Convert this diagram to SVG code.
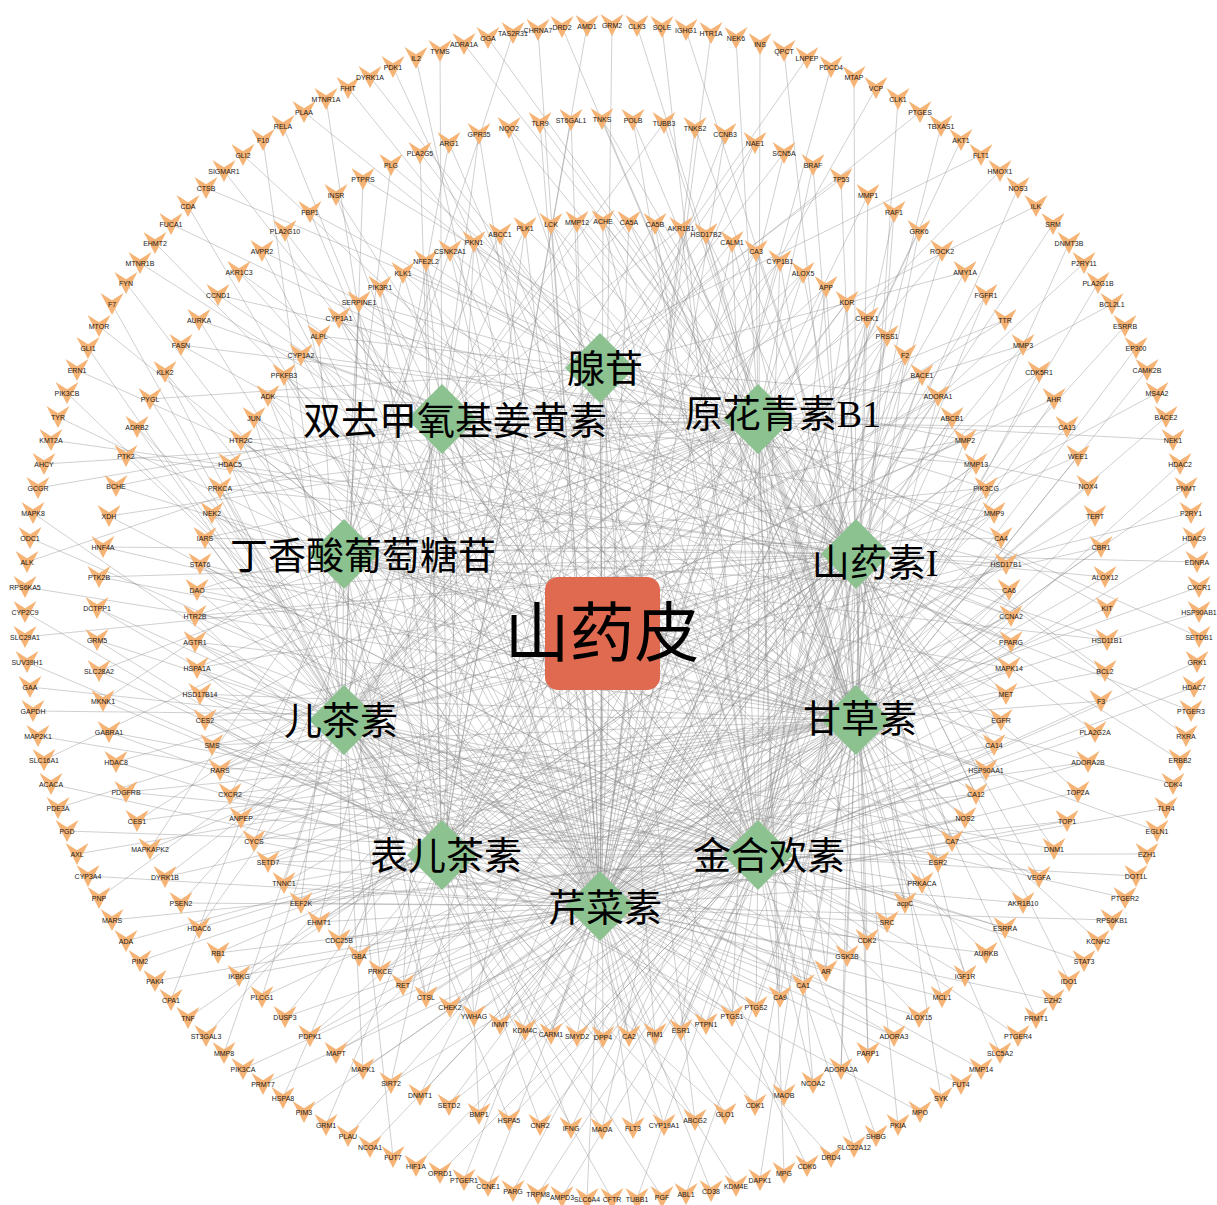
<svg xmlns="http://www.w3.org/2000/svg" width="1217" height="1205" viewBox="0 0 1217 1205">
<style>
.e{fill:none;stroke:#8a8a8a;stroke-opacity:.5;stroke-width:.8;stroke-linejoin:round}
.t text{font-family:"Liberation Sans",Arial,sans-serif;font-size:7px;text-anchor:middle;fill:#1a1a1a}
.c text{font-family:"Liberation Serif","Noto Sans CJK SC",serif;font-size:38px;text-anchor:middle;fill:#000}
.dm{fill:#8cc290}
</style>
<defs>
<polygon id="v" points="-11.5,-11 0,-3.7 11.5,-11 0,11" fill="#f5b375"/>
<polygon id="d" points="0,-35 35,0 0,35 -35,0"/>
</defs>
<rect width="1217" height="1205" fill="#fff"/>
<g id="edges">
<path class="e" d="M612 25L600 906M637 26L856 720M662 27L758 855M686 30L856 554M711 33L600 906M736 38L758 419M760 44L758 855M784 51L856 720M807 58L344 720M831 67L600 906M854 77L856 554M876 88L442 855M898 99L856 720M920 112L600 368M941 126L758 855M961 140L600 906M981 155L442 419M1000 171L758 419M1018 188L856 554M1036 206L344 554M1053 224L600 906M1069 243L856 720M1084 263L442 855M1098 283L758 855M1112 304L344 720M1125 326L600 906M1136 348L856 720M1147 370L758 855M1157 393L856 554M1166 417L600 906M1173 440L758 419M1180 464L758 855M1186 488L856 720M1191 513L344 720M1194 538L600 906M1197 562L856 554M1199 587L442 855"/>
<path class="e" d="M1199 612L856 720M1199 637L600 368M1197 662L758 855M1194 687L600 906M1191 711L442 419M1186 736L758 419M1180 760L856 554M1173 784L344 554M1166 808L600 906M1157 831L856 720M1147 854L442 855M1136 876L758 855M1125 898L344 720M1112 920L600 906M1098 941L856 720M1084 961L758 855M1069 981L856 554M1053 1000L600 906M1036 1018L758 419M1018 1036L758 855M1000 1053L856 720M981 1069L344 720M961 1084L600 906M941 1098L856 554M920 1112L442 855M898 1125L856 720M876 1136L600 368M854 1147L758 855M831 1157L600 906M807 1166L442 419M784 1173L758 419M760 1180L856 554M736 1186L344 554M711 1191L600 906M686 1194L856 720M662 1197L442 855M637 1199L758 855"/>
<path class="e" d="M612 1199L344 720M587 1199L600 906M562 1197L856 720M538 1194L758 855M513 1191L856 554M488 1186L600 906M464 1180L758 419M440 1173L758 855M416 1166L856 720M393 1157L344 720M370 1147L600 906M348 1136L856 554M326 1125L442 855M304 1112L856 720M283 1098L600 368M263 1084L758 855M243 1069L600 906M224 1053L442 419M206 1036L758 419M188 1018L856 554M171 1000L344 554M155 981L600 906M140 961L856 720M126 941L442 855M112 920L758 855M99 898L344 720M88 876L600 906M77 854L856 720M67 831L758 855M58 808L856 554M51 784L600 906M44 760L758 419M38 736L758 855M33 711L856 720M30 687L344 720M27 662L600 906M25 637L856 554"/>
<path class="e" d="M25 612L442 855M25 587L856 720M27 562L600 368M30 538L758 855M33 513L600 906M38 488L442 419M44 464L758 419M51 440L856 554M58 417L344 554M67 393L600 906M77 370L856 720M88 348L442 855M99 326L758 855M112 304L344 720M126 283L600 906M140 263L856 720M155 243L758 855M171 224L856 554M188 206L600 906M206 188L758 419M224 171L758 855M243 155L856 720M263 140L344 720M283 126L600 906M304 112L856 554M326 99L442 855M348 88L856 720M370 77L600 368M393 67L758 855M416 58L600 906M440 51L442 419M464 44L758 419M488 38L856 554M513 33L344 554M538 30L600 906M562 27L856 720M587 26L442 855"/>
<path class="e" d="M856 554L602 119L856 720M758 419L633 120L758 855M856 720L664 123L442 419M600 906L695 128L856 554M442 855L725 134L600 906M600 368L755 143L442 855M600 906L784 153L344 720M758 419L813 165L856 720M344 554L841 179L856 554M856 720L868 195L758 419M758 855L894 212L856 720M600 906L919 231L856 554M758 855L942 251L442 855M600 906L965 272L600 368M758 855L986 295L600 906M344 720L1005 320L758 419M856 554L1023 345L344 554M856 720L1039 372L442 855M758 855L1054 399L344 720M442 419L1067 427L600 906M856 554L1078 456L758 855M600 906L1088 486L758 419M442 855L1095 516L758 855M344 720L1101 547L600 906M856 720L1105 577L856 554"/>
<path class="e" d="M758 419L1107 608L856 720M344 554L1107 640L856 554M856 720L1105 671L758 419M758 855L1101 701L856 720M600 906L1095 732L856 554M758 855L1088 762L442 855M600 906L1078 792L600 368M758 855L1067 821L600 906M344 720L1054 849L758 419M856 554L1039 877L344 554M856 720L1023 903L442 855M758 855L1005 928L344 720M442 419L986 953L600 906M856 554L965 976L758 855M600 906L942 997L758 419M442 855L919 1017L758 855M344 720L894 1036L600 906M856 720L868 1053L856 554M856 554L841 1069L856 720M758 419L813 1083L758 855M856 720L784 1095L442 419M600 906L755 1105L856 554M442 855L725 1114L600 906M600 368L695 1120L442 855M600 906L664 1125L344 720"/>
<path class="e" d="M758 855L633 1128L600 906M344 720L602 1129L758 419M856 554L571 1128L344 554M856 720L540 1125L442 855M758 855L509 1120L344 720M442 419L479 1114L600 906M856 554L449 1105L758 855M600 906L420 1095L758 419M442 855L391 1083L758 855M344 720L363 1069L600 906M856 720L336 1053L856 554M856 554L310 1036L856 720M758 419L285 1017L758 855M856 720L262 997L442 419M600 906L239 976L856 554M442 855L218 953L600 906M600 368L199 928L442 855M600 906L181 903L344 720M758 419L165 877L856 720M344 554L150 849L856 554M856 720L137 821L758 419M758 855L126 792L856 720M600 906L116 762L856 554M758 855L109 732L442 855M600 906L103 701L600 368"/>
<path class="e" d="M600 906L99 671L758 419M442 855L97 640L758 855M344 720L97 608L600 906M856 720L99 577L856 554M856 554L103 547L856 720M758 419L109 516L758 855M856 720L116 486L442 419M600 906L126 456L856 554M442 855L137 427L600 906M600 368L150 399L442 855M600 906L165 372L344 720M758 419L181 345L856 720M344 554L199 320L856 554M856 720L218 295L758 419M758 855L239 272L856 720M600 906L262 251L856 554M758 855L285 231L442 855M600 906L310 212L600 368M758 855L336 195L600 906M344 720L363 179L758 419M856 554L391 165L344 554M856 720L420 153L442 855M758 855L449 143L344 720M442 419L479 134L600 906M856 554L509 128L758 855M600 906L540 123L856 554M442 855L571 120L600 906"/>
<path class="e" d="M600 906L603 221L758 855M856 720L603 221L856 554M856 554L629 222L600 906M442 419L629 222L856 720M758 855L655 224L856 720M856 554L655 224L344 720M600 906L681 228L442 419M856 720L681 228L758 855M856 720L706 234L856 554M344 720L706 234L758 419M600 906L732 242L856 720M758 855L732 242L344 720M856 554L756 251L344 720M758 419L756 251L442 855M856 720L780 261L758 855M344 720L780 261L600 906M344 720L803 273L758 419M442 855L803 273L856 554M758 855L826 287L344 720M600 906L826 287L856 720M758 419L847 302L442 855M856 554L847 302L758 855M344 720L867 318L758 855M600 906L867 318L856 720M442 855L887 336L758 419M758 855L887 336L600 906"/>
<path class="e" d="M758 855L905 355L600 906M856 720L905 355L344 720M758 419L922 375L758 855M600 906L922 375L856 554M600 906L938 396L856 720M344 720L938 396L600 368M758 855L952 418L600 906M856 554L952 418L442 419M856 720L965 440L344 720M600 368L965 440L344 554M600 906L976 464L856 554M442 419L976 464L442 855M856 720L986 488L600 368M344 554L986 488L600 906M856 554L994 513L442 419M442 855L994 513L600 906M600 368L1001 538L344 554M600 906L1001 538L758 855M442 419L1006 564L442 855M856 554L1006 564L600 906M344 554L1009 590L600 906M758 855L1009 590L856 720M442 855L1011 616L856 554M600 906L1011 616L442 419"/>
<path class="e" d="M600 906L1011 642L856 554M442 419L1011 642L442 855M856 720L1009 668L600 368M344 554L1009 668L600 906M856 554L1006 694L442 419M442 855L1006 694L600 906M600 368L1001 720L344 554M600 906L1001 720L758 855M442 419L994 745L442 855M856 554L994 745L600 906M344 554L986 770L600 906M758 855L986 770L856 720M442 855L976 794L856 554M600 906L976 794L442 419M600 906L965 818L758 855M856 720L965 818L856 554M856 554L952 841L600 906M442 419L952 841L856 720M758 855L938 862L856 720M856 554L938 862L344 720M600 906L922 883L442 419M856 720L922 883L758 855M856 720L905 903L856 554M344 720L905 903L758 419"/>
<path class="e" d="M600 906L887 922L856 720M758 855L887 922L344 720M856 554L867 940L344 720M758 419L867 940L442 855M856 720L847 956L758 855M344 720L847 956L600 906M344 720L826 971L758 419M442 855L826 971L856 554M758 855L803 985L344 720M600 906L803 985L856 720M758 419L780 997L442 855M856 554L780 997L758 855M344 720L756 1007L758 855M600 906L756 1007L856 720M442 855L732 1016L758 419M758 855L732 1016L600 906M758 855L706 1024L600 906M856 720L706 1024L344 720M758 419L681 1030L758 855M600 906L681 1030L856 554M600 906L655 1034L856 720M344 720L655 1034L600 368M758 855L629 1036L600 906M856 554L629 1036L442 419M856 720L603 1037L344 720M600 368L603 1037L344 554"/>
<path class="e" d="M344 720L577 1036L758 855M600 906L577 1036L856 720M442 855L551 1034L758 419M758 855L551 1034L600 906M758 855L525 1030L600 906M856 720L525 1030L344 720M758 419L500 1024L758 855M600 906L500 1024L856 554M600 906L474 1016L856 720M344 720L474 1016L600 368M758 855L450 1007L600 906M856 554L450 1007L442 419M856 720L426 997L344 720M600 368L426 997L344 554M600 906L403 985L856 554M442 419L403 985L442 855M856 720L380 971L600 368M344 554L380 971L600 906M856 554L359 956L442 419M442 855L359 956L600 906M600 368L339 940L344 554M600 906L339 940L758 855M442 419L319 922L442 855M856 554L319 922L600 906M344 554L301 903L600 906M758 855L301 903L856 720M442 855L284 883L856 554M600 906L284 883L442 419"/>
<path class="e" d="M600 906L268 862L758 855M856 720L268 862L856 554M856 554L254 841L600 906M442 419L254 841L856 720M758 855L241 818L856 720M856 554L241 818L344 720M600 906L230 794L442 419M856 720L230 794L758 855M856 720L220 770L856 554M344 720L220 770L758 419M600 906L212 745L856 720M758 855L212 745L344 720M856 554L205 720L344 720M758 419L205 720L442 855M856 720L200 694L758 855M344 720L200 694L600 906M344 720L197 668L758 419M442 855L197 668L856 554M758 855L195 642L344 720M600 906L195 642L856 720M758 419L195 616L442 855M856 554L195 616L758 855"/>
<path class="e" d="M856 720L197 590L856 554M344 720L197 590L758 419M600 906L200 564L856 720M758 855L200 564L344 720M856 554L205 538L344 720M758 419L205 538L442 855M856 720L212 513L758 855M344 720L212 513L600 906M344 720L220 488L758 419M442 855L220 488L856 554M758 855L230 464L344 720M600 906L230 464L856 720M758 419L241 440L442 855M856 554L241 440L758 855M344 720L254 418L758 855M600 906L254 418L856 720M442 855L268 396L758 419M758 855L268 396L600 906M758 855L284 375L600 906M856 720L284 375L344 720M758 419L301 355L758 855M600 906L301 355L856 554"/>
<path class="e" d="M600 906L319 336L856 720M344 720L319 336L600 368M758 855L339 318L600 906M856 554L339 318L442 419M856 720L359 302L344 720M600 368L359 302L344 554M600 906L380 287L856 554M442 419L380 287L442 855M856 720L403 273L600 368M344 554L403 273L600 906M856 554L426 261L442 419M442 855L426 261L600 906M600 368L450 251L344 554M600 906L450 251L758 855M442 419L474 242L442 855M856 554L474 242L600 906M344 554L500 234L600 906M758 855L500 234L856 720M442 855L525 228L856 554M600 906L525 228L442 419M600 906L551 224L758 855M856 720L551 224L856 554M856 554L577 222L600 906M442 419L577 222L856 720"/>
<path class="e" d="M600 368L602 633L758 419M856 554L602 633L856 720M758 855L602 633L600 906M442 855L602 633L344 720M344 554L602 633L442 419"/>
</g>
<g id="herb">
<rect x="545" y="577" width="115" height="113" rx="13" fill="#e06a4f"/>
<text x="602" y="656" font-family="'Liberation Serif','Noto Sans CJK SC',serif" font-size="65" text-anchor="middle" fill="#000">山药皮</text>
</g>
<g class="c">
<g id="C0"><use href="#d" class="dm" x="600" y="368"/><text x="605" y="382">腺苷</text></g>
<g id="C1"><use href="#d" class="dm" x="758" y="419"/><text x="783" y="427">原花青素B1</text></g>
<g id="C2"><use href="#d" class="dm" x="856" y="554"/><text x="875" y="576">山药素I</text></g>
<g id="C3"><use href="#d" class="dm" x="856" y="720"/><text x="860" y="732">甘草素</text></g>
<g id="C4"><use href="#d" class="dm" x="758" y="855"/><text x="769" y="869">金合欢素</text></g>
<g id="C5"><use href="#d" class="dm" x="600" y="906"/><text x="605" y="921">芹菜素</text></g>
<g id="C6"><use href="#d" class="dm" x="442" y="855"/><text x="446" y="869">表儿茶素</text></g>
<g id="C7"><use href="#d" class="dm" x="344" y="720"/><text x="341" y="734">儿茶素</text></g>
<g id="C8"><use href="#d" class="dm" x="344" y="554"/><text x="363" y="569">丁香酸葡萄糖苷</text></g>
<g id="C9"><use href="#d" class="dm" x="442" y="419"/><text x="455" y="434">双去甲氧基姜黄素</text></g>
</g>
<g class="t" id="ring1">
<g id="GRM2" transform="translate(612 25)"><use href="#v"/><text y="2.5">GRM2</text></g>
<g id="CLK3" transform="translate(637 26)"><use href="#v"/><text y="2.5">CLK3</text></g>
<g id="SQLE" transform="translate(662 27)"><use href="#v"/><text y="2.5">SQLE</text></g>
<g id="IGHG1" transform="translate(686 30)"><use href="#v"/><text y="2.5">IGHG1</text></g>
<g id="HTR1A" transform="translate(711 33)"><use href="#v"/><text y="2.5">HTR1A</text></g>
<g id="NEK6" transform="translate(736 38)"><use href="#v"/><text y="2.5">NEK6</text></g>
<g id="INS" transform="translate(760 44)"><use href="#v"/><text y="2.5">INS</text></g>
<g id="QPCT" transform="translate(784 51)"><use href="#v"/><text y="2.5">QPCT</text></g>
<g id="LNPEP" transform="translate(807 58)"><use href="#v"/><text y="2.5">LNPEP</text></g>
<g id="PDCD4" transform="translate(831 67)"><use href="#v"/><text y="2.5">PDCD4</text></g>
<g id="MTAP" transform="translate(854 77)"><use href="#v"/><text y="2.5">MTAP</text></g>
<g id="VCP" transform="translate(876 88)"><use href="#v"/><text y="2.5">VCP</text></g>
<g id="CLK1" transform="translate(898 99)"><use href="#v"/><text y="2.5">CLK1</text></g>
<g id="PTGES" transform="translate(920 112)"><use href="#v"/><text y="2.5">PTGES</text></g>
<g id="TBXAS1" transform="translate(941 126)"><use href="#v"/><text y="2.5">TBXAS1</text></g>
<g id="AKT1" transform="translate(961 140)"><use href="#v"/><text y="2.5">AKT1</text></g>
<g id="FLT1" transform="translate(981 155)"><use href="#v"/><text y="2.5">FLT1</text></g>
<g id="HMOX1" transform="translate(1000 171)"><use href="#v"/><text y="2.5">HMOX1</text></g>
<g id="NOS3" transform="translate(1018 188)"><use href="#v"/><text y="2.5">NOS3</text></g>
<g id="ILK" transform="translate(1036 206)"><use href="#v"/><text y="2.5">ILK</text></g>
<g id="SRM" transform="translate(1053 224)"><use href="#v"/><text y="2.5">SRM</text></g>
<g id="DNMT3B" transform="translate(1069 243)"><use href="#v"/><text y="2.5">DNMT3B</text></g>
<g id="P2RY11" transform="translate(1084 263)"><use href="#v"/><text y="2.5">P2RY11</text></g>
<g id="PLA2G1B" transform="translate(1098 283)"><use href="#v"/><text y="2.5">PLA2G1B</text></g>
<g id="BCL2L1" transform="translate(1112 304)"><use href="#v"/><text y="2.5">BCL2L1</text></g>
<g id="ESRRB" transform="translate(1125 326)"><use href="#v"/><text y="2.5">ESRRB</text></g>
<g id="EP300" transform="translate(1136 348)"><use href="#v"/><text y="2.5">EP300</text></g>
<g id="CAMK2B" transform="translate(1147 370)"><use href="#v"/><text y="2.5">CAMK2B</text></g>
<g id="MS4A2" transform="translate(1157 393)"><use href="#v"/><text y="2.5">MS4A2</text></g>
<g id="BACE2" transform="translate(1166 417)"><use href="#v"/><text y="2.5">BACE2</text></g>
<g id="NEK1" transform="translate(1173 440)"><use href="#v"/><text y="2.5">NEK1</text></g>
<g id="HDAC2" transform="translate(1180 464)"><use href="#v"/><text y="2.5">HDAC2</text></g>
<g id="PNMT" transform="translate(1186 488)"><use href="#v"/><text y="2.5">PNMT</text></g>
<g id="P2RY1" transform="translate(1191 513)"><use href="#v"/><text y="2.5">P2RY1</text></g>
<g id="HDAC9" transform="translate(1194 538)"><use href="#v"/><text y="2.5">HDAC9</text></g>
<g id="EDNRA" transform="translate(1197 562)"><use href="#v"/><text y="2.5">EDNRA</text></g>
<g id="CXCR1" transform="translate(1199 587)"><use href="#v"/><text y="2.5">CXCR1</text></g>
<g id="HSP90AB1" transform="translate(1199 612)"><use href="#v"/><text y="2.5">HSP90AB1</text></g>
<g id="SETDB1" transform="translate(1199 637)"><use href="#v"/><text y="2.5">SETDB1</text></g>
<g id="GRK1" transform="translate(1197 662)"><use href="#v"/><text y="2.5">GRK1</text></g>
<g id="HDAC7" transform="translate(1194 687)"><use href="#v"/><text y="2.5">HDAC7</text></g>
<g id="PTGER3" transform="translate(1191 711)"><use href="#v"/><text y="2.5">PTGER3</text></g>
<g id="RXRA" transform="translate(1186 736)"><use href="#v"/><text y="2.5">RXRA</text></g>
<g id="ERBB2" transform="translate(1180 760)"><use href="#v"/><text y="2.5">ERBB2</text></g>
<g id="CDK4" transform="translate(1173 784)"><use href="#v"/><text y="2.5">CDK4</text></g>
<g id="TLR4" transform="translate(1166 808)"><use href="#v"/><text y="2.5">TLR4</text></g>
<g id="EGLN1" transform="translate(1157 831)"><use href="#v"/><text y="2.5">EGLN1</text></g>
<g id="EZH1" transform="translate(1147 854)"><use href="#v"/><text y="2.5">EZH1</text></g>
<g id="DOT1L" transform="translate(1136 876)"><use href="#v"/><text y="2.5">DOT1L</text></g>
<g id="PTGER2" transform="translate(1125 898)"><use href="#v"/><text y="2.5">PTGER2</text></g>
<g id="RPS6KB1" transform="translate(1112 920)"><use href="#v"/><text y="2.5">RPS6KB1</text></g>
<g id="KCNH2" transform="translate(1098 941)"><use href="#v"/><text y="2.5">KCNH2</text></g>
<g id="STAT3" transform="translate(1084 961)"><use href="#v"/><text y="2.5">STAT3</text></g>
<g id="IDO1" transform="translate(1069 981)"><use href="#v"/><text y="2.5">IDO1</text></g>
<g id="EZH2" transform="translate(1053 1000)"><use href="#v"/><text y="2.5">EZH2</text></g>
<g id="PRMT1" transform="translate(1036 1018)"><use href="#v"/><text y="2.5">PRMT1</text></g>
<g id="PTGER4" transform="translate(1018 1036)"><use href="#v"/><text y="2.5">PTGER4</text></g>
<g id="SLC5A2" transform="translate(1000 1053)"><use href="#v"/><text y="2.5">SLC5A2</text></g>
<g id="MMP14" transform="translate(981 1069)"><use href="#v"/><text y="2.5">MMP14</text></g>
<g id="FUT4" transform="translate(961 1084)"><use href="#v"/><text y="2.5">FUT4</text></g>
<g id="SYK" transform="translate(941 1098)"><use href="#v"/><text y="2.5">SYK</text></g>
<g id="MPO" transform="translate(920 1112)"><use href="#v"/><text y="2.5">MPO</text></g>
<g id="PKIA" transform="translate(898 1125)"><use href="#v"/><text y="2.5">PKIA</text></g>
<g id="SHBG" transform="translate(876 1136)"><use href="#v"/><text y="2.5">SHBG</text></g>
<g id="SLC22A12" transform="translate(854 1147)"><use href="#v"/><text y="2.5">SLC22A12</text></g>
<g id="DRD4" transform="translate(831 1157)"><use href="#v"/><text y="2.5">DRD4</text></g>
<g id="CDK6" transform="translate(807 1166)"><use href="#v"/><text y="2.5">CDK6</text></g>
<g id="MPG" transform="translate(784 1173)"><use href="#v"/><text y="2.5">MPG</text></g>
<g id="DAPK1" transform="translate(760 1180)"><use href="#v"/><text y="2.5">DAPK1</text></g>
<g id="KDM4E" transform="translate(736 1186)"><use href="#v"/><text y="2.5">KDM4E</text></g>
<g id="CD38" transform="translate(711 1191)"><use href="#v"/><text y="2.5">CD38</text></g>
<g id="ABL1" transform="translate(686 1194)"><use href="#v"/><text y="2.5">ABL1</text></g>
<g id="PGF" transform="translate(662 1197)"><use href="#v"/><text y="2.5">PGF</text></g>
<g id="TUBB1" transform="translate(637 1199)"><use href="#v"/><text y="2.5">TUBB1</text></g>
<g id="CFTR" transform="translate(612 1199)"><use href="#v"/><text y="2.5">CFTR</text></g>
<g id="SLC6A4" transform="translate(587 1199)"><use href="#v"/><text y="2.5">SLC6A4</text></g>
<g id="AMPD3" transform="translate(562 1197)"><use href="#v"/><text y="2.5">AMPD3</text></g>
<g id="TRPM8" transform="translate(538 1194)"><use href="#v"/><text y="2.5">TRPM8</text></g>
<g id="PARG" transform="translate(513 1191)"><use href="#v"/><text y="2.5">PARG</text></g>
<g id="CCNE1" transform="translate(488 1186)"><use href="#v"/><text y="2.5">CCNE1</text></g>
<g id="PTGER1" transform="translate(464 1180)"><use href="#v"/><text y="2.5">PTGER1</text></g>
<g id="OPRD1" transform="translate(440 1173)"><use href="#v"/><text y="2.5">OPRD1</text></g>
<g id="HIF1A" transform="translate(416 1166)"><use href="#v"/><text y="2.5">HIF1A</text></g>
<g id="FUT7" transform="translate(393 1157)"><use href="#v"/><text y="2.5">FUT7</text></g>
<g id="NCOA1" transform="translate(370 1147)"><use href="#v"/><text y="2.5">NCOA1</text></g>
<g id="PLAU" transform="translate(348 1136)"><use href="#v"/><text y="2.5">PLAU</text></g>
<g id="GRM1" transform="translate(326 1125)"><use href="#v"/><text y="2.5">GRM1</text></g>
<g id="PIM3" transform="translate(304 1112)"><use href="#v"/><text y="2.5">PIM3</text></g>
<g id="HSPA8" transform="translate(283 1098)"><use href="#v"/><text y="2.5">HSPA8</text></g>
<g id="PRMT7" transform="translate(263 1084)"><use href="#v"/><text y="2.5">PRMT7</text></g>
<g id="PIK3CA" transform="translate(243 1069)"><use href="#v"/><text y="2.5">PIK3CA</text></g>
<g id="MMP8" transform="translate(224 1053)"><use href="#v"/><text y="2.5">MMP8</text></g>
<g id="ST3GAL3" transform="translate(206 1036)"><use href="#v"/><text y="2.5">ST3GAL3</text></g>
<g id="TNF" transform="translate(188 1018)"><use href="#v"/><text y="2.5">TNF</text></g>
<g id="CPA1" transform="translate(171 1000)"><use href="#v"/><text y="2.5">CPA1</text></g>
<g id="PAK4" transform="translate(155 981)"><use href="#v"/><text y="2.5">PAK4</text></g>
<g id="PIM2" transform="translate(140 961)"><use href="#v"/><text y="2.5">PIM2</text></g>
<g id="ADA" transform="translate(126 941)"><use href="#v"/><text y="2.5">ADA</text></g>
<g id="MARS" transform="translate(112 920)"><use href="#v"/><text y="2.5">MARS</text></g>
<g id="PNP" transform="translate(99 898)"><use href="#v"/><text y="2.5">PNP</text></g>
<g id="CYP3A4" transform="translate(88 876)"><use href="#v"/><text y="2.5">CYP3A4</text></g>
<g id="AXL" transform="translate(77 854)"><use href="#v"/><text y="2.5">AXL</text></g>
<g id="PGD" transform="translate(67 831)"><use href="#v"/><text y="2.5">PGD</text></g>
<g id="PDE3A" transform="translate(58 808)"><use href="#v"/><text y="2.5">PDE3A</text></g>
<g id="ACACA" transform="translate(51 784)"><use href="#v"/><text y="2.5">ACACA</text></g>
<g id="SLC16A1" transform="translate(44 760)"><use href="#v"/><text y="2.5">SLC16A1</text></g>
<g id="MAP2K1" transform="translate(38 736)"><use href="#v"/><text y="2.5">MAP2K1</text></g>
<g id="GAPDH" transform="translate(33 711)"><use href="#v"/><text y="2.5">GAPDH</text></g>
<g id="GAA" transform="translate(30 687)"><use href="#v"/><text y="2.5">GAA</text></g>
<g id="SUV39H1" transform="translate(27 662)"><use href="#v"/><text y="2.5">SUV39H1</text></g>
<g id="SLC29A1" transform="translate(25 637)"><use href="#v"/><text y="2.5">SLC29A1</text></g>
<g id="CYP2C9" transform="translate(25 612)"><use href="#v"/><text y="2.5">CYP2C9</text></g>
<g id="RPS6KA5" transform="translate(25 587)"><use href="#v"/><text y="2.5">RPS6KA5</text></g>
<g id="ALK" transform="translate(27 562)"><use href="#v"/><text y="2.5">ALK</text></g>
<g id="ODC1" transform="translate(30 538)"><use href="#v"/><text y="2.5">ODC1</text></g>
<g id="MAPK8" transform="translate(33 513)"><use href="#v"/><text y="2.5">MAPK8</text></g>
<g id="GCGR" transform="translate(38 488)"><use href="#v"/><text y="2.5">GCGR</text></g>
<g id="AHCY" transform="translate(44 464)"><use href="#v"/><text y="2.5">AHCY</text></g>
<g id="KMT2A" transform="translate(51 440)"><use href="#v"/><text y="2.5">KMT2A</text></g>
<g id="TYR" transform="translate(58 417)"><use href="#v"/><text y="2.5">TYR</text></g>
<g id="PIK3CB" transform="translate(67 393)"><use href="#v"/><text y="2.5">PIK3CB</text></g>
<g id="ERN1" transform="translate(77 370)"><use href="#v"/><text y="2.5">ERN1</text></g>
<g id="GLI1" transform="translate(88 348)"><use href="#v"/><text y="2.5">GLI1</text></g>
<g id="MTOR" transform="translate(99 326)"><use href="#v"/><text y="2.5">MTOR</text></g>
<g id="F7" transform="translate(112 304)"><use href="#v"/><text y="2.5">F7</text></g>
<g id="FYN" transform="translate(126 283)"><use href="#v"/><text y="2.5">FYN</text></g>
<g id="MTNR1B" transform="translate(140 263)"><use href="#v"/><text y="2.5">MTNR1B</text></g>
<g id="EHMT2" transform="translate(155 243)"><use href="#v"/><text y="2.5">EHMT2</text></g>
<g id="FUCA1" transform="translate(171 224)"><use href="#v"/><text y="2.5">FUCA1</text></g>
<g id="CDA" transform="translate(188 206)"><use href="#v"/><text y="2.5">CDA</text></g>
<g id="CTSB" transform="translate(206 188)"><use href="#v"/><text y="2.5">CTSB</text></g>
<g id="SIGMAR1" transform="translate(224 171)"><use href="#v"/><text y="2.5">SIGMAR1</text></g>
<g id="GLI2" transform="translate(243 155)"><use href="#v"/><text y="2.5">GLI2</text></g>
<g id="F10" transform="translate(263 140)"><use href="#v"/><text y="2.5">F10</text></g>
<g id="RELA" transform="translate(283 126)"><use href="#v"/><text y="2.5">RELA</text></g>
<g id="PLAA" transform="translate(304 112)"><use href="#v"/><text y="2.5">PLAA</text></g>
<g id="MTNR1A" transform="translate(326 99)"><use href="#v"/><text y="2.5">MTNR1A</text></g>
<g id="FHIT" transform="translate(348 88)"><use href="#v"/><text y="2.5">FHIT</text></g>
<g id="DYRK1A" transform="translate(370 77)"><use href="#v"/><text y="2.5">DYRK1A</text></g>
<g id="PDK1" transform="translate(393 67)"><use href="#v"/><text y="2.5">PDK1</text></g>
<g id="IL2" transform="translate(416 58)"><use href="#v"/><text y="2.5">IL2</text></g>
<g id="TYMS" transform="translate(440 51)"><use href="#v"/><text y="2.5">TYMS</text></g>
<g id="ADRA1A" transform="translate(464 44)"><use href="#v"/><text y="2.5">ADRA1A</text></g>
<g id="OGA" transform="translate(488 38)"><use href="#v"/><text y="2.5">OGA</text></g>
<g id="TAS2R31" transform="translate(513 33)"><use href="#v"/><text y="2.5">TAS2R31</text></g>
<g id="CHRNA7" transform="translate(538 30)"><use href="#v"/><text y="2.5">CHRNA7</text></g>
<g id="DRD2" transform="translate(562 27)"><use href="#v"/><text y="2.5">DRD2</text></g>
<g id="AMD1" transform="translate(587 26)"><use href="#v"/><text y="2.5">AMD1</text></g>
</g>
<g class="t" id="ring2">
<g id="TNKS" transform="translate(602 119)"><use href="#v"/><text y="2.5">TNKS</text></g>
<g id="POLB" transform="translate(633 120)"><use href="#v"/><text y="2.5">POLB</text></g>
<g id="TUBB3" transform="translate(664 123)"><use href="#v"/><text y="2.5">TUBB3</text></g>
<g id="TNKS2" transform="translate(695 128)"><use href="#v"/><text y="2.5">TNKS2</text></g>
<g id="CCNB3" transform="translate(725 134)"><use href="#v"/><text y="2.5">CCNB3</text></g>
<g id="NAE1" transform="translate(755 143)"><use href="#v"/><text y="2.5">NAE1</text></g>
<g id="SCN5A" transform="translate(784 153)"><use href="#v"/><text y="2.5">SCN5A</text></g>
<g id="BRAF" transform="translate(813 165)"><use href="#v"/><text y="2.5">BRAF</text></g>
<g id="TP53" transform="translate(841 179)"><use href="#v"/><text y="2.5">TP53</text></g>
<g id="MMP1" transform="translate(868 195)"><use href="#v"/><text y="2.5">MMP1</text></g>
<g id="RAF1" transform="translate(894 212)"><use href="#v"/><text y="2.5">RAF1</text></g>
<g id="GRK6" transform="translate(919 231)"><use href="#v"/><text y="2.5">GRK6</text></g>
<g id="ROCK2" transform="translate(942 251)"><use href="#v"/><text y="2.5">ROCK2</text></g>
<g id="AMY1A" transform="translate(965 272)"><use href="#v"/><text y="2.5">AMY1A</text></g>
<g id="FGFR1" transform="translate(986 295)"><use href="#v"/><text y="2.5">FGFR1</text></g>
<g id="TTR" transform="translate(1005 320)"><use href="#v"/><text y="2.5">TTR</text></g>
<g id="MMP3" transform="translate(1023 345)"><use href="#v"/><text y="2.5">MMP3</text></g>
<g id="CDK5R1" transform="translate(1039 372)"><use href="#v"/><text y="2.5">CDK5R1</text></g>
<g id="AHR" transform="translate(1054 399)"><use href="#v"/><text y="2.5">AHR</text></g>
<g id="CA13" transform="translate(1067 427)"><use href="#v"/><text y="2.5">CA13</text></g>
<g id="WEE1" transform="translate(1078 456)"><use href="#v"/><text y="2.5">WEE1</text></g>
<g id="NOX4" transform="translate(1088 486)"><use href="#v"/><text y="2.5">NOX4</text></g>
<g id="TERT" transform="translate(1095 516)"><use href="#v"/><text y="2.5">TERT</text></g>
<g id="CBR1" transform="translate(1101 547)"><use href="#v"/><text y="2.5">CBR1</text></g>
<g id="ALOX12" transform="translate(1105 577)"><use href="#v"/><text y="2.5">ALOX12</text></g>
<g id="KIT" transform="translate(1107 608)"><use href="#v"/><text y="2.5">KIT</text></g>
<g id="HSD11B1" transform="translate(1107 640)"><use href="#v"/><text y="2.5">HSD11B1</text></g>
<g id="BCL2" transform="translate(1105 671)"><use href="#v"/><text y="2.5">BCL2</text></g>
<g id="F3" transform="translate(1101 701)"><use href="#v"/><text y="2.5">F3</text></g>
<g id="PLA2G2A" transform="translate(1095 732)"><use href="#v"/><text y="2.5">PLA2G2A</text></g>
<g id="ADORA2B" transform="translate(1088 762)"><use href="#v"/><text y="2.5">ADORA2B</text></g>
<g id="TOP2A" transform="translate(1078 792)"><use href="#v"/><text y="2.5">TOP2A</text></g>
<g id="TOP1" transform="translate(1067 821)"><use href="#v"/><text y="2.5">TOP1</text></g>
<g id="DNM1" transform="translate(1054 849)"><use href="#v"/><text y="2.5">DNM1</text></g>
<g id="VEGFA" transform="translate(1039 877)"><use href="#v"/><text y="2.5">VEGFA</text></g>
<g id="AKR1B10" transform="translate(1023 903)"><use href="#v"/><text y="2.5">AKR1B10</text></g>
<g id="ESRRA" transform="translate(1005 928)"><use href="#v"/><text y="2.5">ESRRA</text></g>
<g id="AURKB" transform="translate(986 953)"><use href="#v"/><text y="2.5">AURKB</text></g>
<g id="IGF1R" transform="translate(965 976)"><use href="#v"/><text y="2.5">IGF1R</text></g>
<g id="MCL1" transform="translate(942 997)"><use href="#v"/><text y="2.5">MCL1</text></g>
<g id="ALOX15" transform="translate(919 1017)"><use href="#v"/><text y="2.5">ALOX15</text></g>
<g id="ADORA3" transform="translate(894 1036)"><use href="#v"/><text y="2.5">ADORA3</text></g>
<g id="PARP1" transform="translate(868 1053)"><use href="#v"/><text y="2.5">PARP1</text></g>
<g id="ADORA2A" transform="translate(841 1069)"><use href="#v"/><text y="2.5">ADORA2A</text></g>
<g id="NCOA2" transform="translate(813 1083)"><use href="#v"/><text y="2.5">NCOA2</text></g>
<g id="MAOB" transform="translate(784 1095)"><use href="#v"/><text y="2.5">MAOB</text></g>
<g id="CDK1" transform="translate(755 1105)"><use href="#v"/><text y="2.5">CDK1</text></g>
<g id="GLO1" transform="translate(725 1114)"><use href="#v"/><text y="2.5">GLO1</text></g>
<g id="ABCG2" transform="translate(695 1120)"><use href="#v"/><text y="2.5">ABCG2</text></g>
<g id="CYP19A1" transform="translate(664 1125)"><use href="#v"/><text y="2.5">CYP19A1</text></g>
<g id="FLT3" transform="translate(633 1128)"><use href="#v"/><text y="2.5">FLT3</text></g>
<g id="MAOA" transform="translate(602 1129)"><use href="#v"/><text y="2.5">MAOA</text></g>
<g id="IFNG" transform="translate(571 1128)"><use href="#v"/><text y="2.5">IFNG</text></g>
<g id="CNR2" transform="translate(540 1125)"><use href="#v"/><text y="2.5">CNR2</text></g>
<g id="HSPA5" transform="translate(509 1120)"><use href="#v"/><text y="2.5">HSPA5</text></g>
<g id="BMP1" transform="translate(479 1114)"><use href="#v"/><text y="2.5">BMP1</text></g>
<g id="SETD2" transform="translate(449 1105)"><use href="#v"/><text y="2.5">SETD2</text></g>
<g id="DNMT1" transform="translate(420 1095)"><use href="#v"/><text y="2.5">DNMT1</text></g>
<g id="SIRT2" transform="translate(391 1083)"><use href="#v"/><text y="2.5">SIRT2</text></g>
<g id="MAPK1" transform="translate(363 1069)"><use href="#v"/><text y="2.5">MAPK1</text></g>
<g id="MAPT" transform="translate(336 1053)"><use href="#v"/><text y="2.5">MAPT</text></g>
<g id="PDPK1" transform="translate(310 1036)"><use href="#v"/><text y="2.5">PDPK1</text></g>
<g id="DUSP3" transform="translate(285 1017)"><use href="#v"/><text y="2.5">DUSP3</text></g>
<g id="PLCG1" transform="translate(262 997)"><use href="#v"/><text y="2.5">PLCG1</text></g>
<g id="IKBKG" transform="translate(239 976)"><use href="#v"/><text y="2.5">IKBKG</text></g>
<g id="RB1" transform="translate(218 953)"><use href="#v"/><text y="2.5">RB1</text></g>
<g id="HDAC6" transform="translate(199 928)"><use href="#v"/><text y="2.5">HDAC6</text></g>
<g id="PSEN2" transform="translate(181 903)"><use href="#v"/><text y="2.5">PSEN2</text></g>
<g id="DYRK1B" transform="translate(165 877)"><use href="#v"/><text y="2.5">DYRK1B</text></g>
<g id="MAPKAPK2" transform="translate(150 849)"><use href="#v"/><text y="2.5">MAPKAPK2</text></g>
<g id="CES1" transform="translate(137 821)"><use href="#v"/><text y="2.5">CES1</text></g>
<g id="PDGFRB" transform="translate(126 792)"><use href="#v"/><text y="2.5">PDGFRB</text></g>
<g id="HDAC8" transform="translate(116 762)"><use href="#v"/><text y="2.5">HDAC8</text></g>
<g id="GABRA1" transform="translate(109 732)"><use href="#v"/><text y="2.5">GABRA1</text></g>
<g id="MKNK1" transform="translate(103 701)"><use href="#v"/><text y="2.5">MKNK1</text></g>
<g id="SLC28A2" transform="translate(99 671)"><use href="#v"/><text y="2.5">SLC28A2</text></g>
<g id="GRM5" transform="translate(97 640)"><use href="#v"/><text y="2.5">GRM5</text></g>
<g id="DCTPP1" transform="translate(97 608)"><use href="#v"/><text y="2.5">DCTPP1</text></g>
<g id="PTK2B" transform="translate(99 577)"><use href="#v"/><text y="2.5">PTK2B</text></g>
<g id="HNF4A" transform="translate(103 547)"><use href="#v"/><text y="2.5">HNF4A</text></g>
<g id="XDH" transform="translate(109 516)"><use href="#v"/><text y="2.5">XDH</text></g>
<g id="BCHE" transform="translate(116 486)"><use href="#v"/><text y="2.5">BCHE</text></g>
<g id="PTK2" transform="translate(126 456)"><use href="#v"/><text y="2.5">PTK2</text></g>
<g id="ADRB2" transform="translate(137 427)"><use href="#v"/><text y="2.5">ADRB2</text></g>
<g id="PYGL" transform="translate(150 399)"><use href="#v"/><text y="2.5">PYGL</text></g>
<g id="KLK2" transform="translate(165 372)"><use href="#v"/><text y="2.5">KLK2</text></g>
<g id="FASN" transform="translate(181 345)"><use href="#v"/><text y="2.5">FASN</text></g>
<g id="AURKA" transform="translate(199 320)"><use href="#v"/><text y="2.5">AURKA</text></g>
<g id="CCND1" transform="translate(218 295)"><use href="#v"/><text y="2.5">CCND1</text></g>
<g id="AKR1C3" transform="translate(239 272)"><use href="#v"/><text y="2.5">AKR1C3</text></g>
<g id="AVPR2" transform="translate(262 251)"><use href="#v"/><text y="2.5">AVPR2</text></g>
<g id="PLA2G10" transform="translate(285 231)"><use href="#v"/><text y="2.5">PLA2G10</text></g>
<g id="FBP1" transform="translate(310 212)"><use href="#v"/><text y="2.5">FBP1</text></g>
<g id="INSR" transform="translate(336 195)"><use href="#v"/><text y="2.5">INSR</text></g>
<g id="PTPRS" transform="translate(363 179)"><use href="#v"/><text y="2.5">PTPRS</text></g>
<g id="PLG" transform="translate(391 165)"><use href="#v"/><text y="2.5">PLG</text></g>
<g id="PLA2G5" transform="translate(420 153)"><use href="#v"/><text y="2.5">PLA2G5</text></g>
<g id="ARG1" transform="translate(449 143)"><use href="#v"/><text y="2.5">ARG1</text></g>
<g id="GPR35" transform="translate(479 134)"><use href="#v"/><text y="2.5">GPR35</text></g>
<g id="NQO2" transform="translate(509 128)"><use href="#v"/><text y="2.5">NQO2</text></g>
<g id="TLR9" transform="translate(540 123)"><use href="#v"/><text y="2.5">TLR9</text></g>
<g id="ST6GAL1" transform="translate(571 120)"><use href="#v"/><text y="2.5">ST6GAL1</text></g>
</g>
<g class="t" id="ring3">
<g id="ACHE" transform="translate(603 221)"><use href="#v"/><text y="2.5">ACHE</text></g>
<g id="CA5A" transform="translate(629 222)"><use href="#v"/><text y="2.5">CA5A</text></g>
<g id="CA5B" transform="translate(655 224)"><use href="#v"/><text y="2.5">CA5B</text></g>
<g id="AKR1B1" transform="translate(681 228)"><use href="#v"/><text y="2.5">AKR1B1</text></g>
<g id="HSD17B2" transform="translate(706 234)"><use href="#v"/><text y="2.5">HSD17B2</text></g>
<g id="CALM1" transform="translate(732 242)"><use href="#v"/><text y="2.5">CALM1</text></g>
<g id="CA3" transform="translate(756 251)"><use href="#v"/><text y="2.5">CA3</text></g>
<g id="CYP1B1" transform="translate(780 261)"><use href="#v"/><text y="2.5">CYP1B1</text></g>
<g id="ALOX5" transform="translate(803 273)"><use href="#v"/><text y="2.5">ALOX5</text></g>
<g id="APP" transform="translate(826 287)"><use href="#v"/><text y="2.5">APP</text></g>
<g id="KDR" transform="translate(847 302)"><use href="#v"/><text y="2.5">KDR</text></g>
<g id="CHEK1" transform="translate(867 318)"><use href="#v"/><text y="2.5">CHEK1</text></g>
<g id="PRSS1" transform="translate(887 336)"><use href="#v"/><text y="2.5">PRSS1</text></g>
<g id="F2" transform="translate(905 355)"><use href="#v"/><text y="2.5">F2</text></g>
<g id="BACE1" transform="translate(922 375)"><use href="#v"/><text y="2.5">BACE1</text></g>
<g id="ADORA1" transform="translate(938 396)"><use href="#v"/><text y="2.5">ADORA1</text></g>
<g id="ABCB1" transform="translate(952 418)"><use href="#v"/><text y="2.5">ABCB1</text></g>
<g id="MMP2" transform="translate(965 440)"><use href="#v"/><text y="2.5">MMP2</text></g>
<g id="MMP13" transform="translate(976 464)"><use href="#v"/><text y="2.5">MMP13</text></g>
<g id="PIK3CG" transform="translate(986 488)"><use href="#v"/><text y="2.5">PIK3CG</text></g>
<g id="MMP9" transform="translate(994 513)"><use href="#v"/><text y="2.5">MMP9</text></g>
<g id="CA4" transform="translate(1001 538)"><use href="#v"/><text y="2.5">CA4</text></g>
<g id="HSD17B1" transform="translate(1006 564)"><use href="#v"/><text y="2.5">HSD17B1</text></g>
<g id="CA6" transform="translate(1009 590)"><use href="#v"/><text y="2.5">CA6</text></g>
<g id="CCNA2" transform="translate(1011 616)"><use href="#v"/><text y="2.5">CCNA2</text></g>
<g id="PPARG" transform="translate(1011 642)"><use href="#v"/><text y="2.5">PPARG</text></g>
<g id="MAPK14" transform="translate(1009 668)"><use href="#v"/><text y="2.5">MAPK14</text></g>
<g id="MET" transform="translate(1006 694)"><use href="#v"/><text y="2.5">MET</text></g>
<g id="EGFR" transform="translate(1001 720)"><use href="#v"/><text y="2.5">EGFR</text></g>
<g id="CA14" transform="translate(994 745)"><use href="#v"/><text y="2.5">CA14</text></g>
<g id="HSP90AA1" transform="translate(986 770)"><use href="#v"/><text y="2.5">HSP90AA1</text></g>
<g id="CA12" transform="translate(976 794)"><use href="#v"/><text y="2.5">CA12</text></g>
<g id="NOS2" transform="translate(965 818)"><use href="#v"/><text y="2.5">NOS2</text></g>
<g id="CA7" transform="translate(952 841)"><use href="#v"/><text y="2.5">CA7</text></g>
<g id="ESR2" transform="translate(938 862)"><use href="#v"/><text y="2.5">ESR2</text></g>
<g id="PRKACA" transform="translate(922 883)"><use href="#v"/><text y="2.5">PRKACA</text></g>
<g id="acpC" transform="translate(905 903)"><use href="#v"/><text y="2.5">acpC</text></g>
<g id="SRC" transform="translate(887 922)"><use href="#v"/><text y="2.5">SRC</text></g>
<g id="CDK2" transform="translate(867 940)"><use href="#v"/><text y="2.5">CDK2</text></g>
<g id="GSK3B" transform="translate(847 956)"><use href="#v"/><text y="2.5">GSK3B</text></g>
<g id="AR" transform="translate(826 971)"><use href="#v"/><text y="2.5">AR</text></g>
<g id="CA1" transform="translate(803 985)"><use href="#v"/><text y="2.5">CA1</text></g>
<g id="CA9" transform="translate(780 997)"><use href="#v"/><text y="2.5">CA9</text></g>
<g id="PTGS2" transform="translate(756 1007)"><use href="#v"/><text y="2.5">PTGS2</text></g>
<g id="PTGS1" transform="translate(732 1016)"><use href="#v"/><text y="2.5">PTGS1</text></g>
<g id="PTPN1" transform="translate(706 1024)"><use href="#v"/><text y="2.5">PTPN1</text></g>
<g id="ESR1" transform="translate(681 1030)"><use href="#v"/><text y="2.5">ESR1</text></g>
<g id="PIM1" transform="translate(655 1034)"><use href="#v"/><text y="2.5">PIM1</text></g>
<g id="CA2" transform="translate(629 1036)"><use href="#v"/><text y="2.5">CA2</text></g>
<g id="DPP4" transform="translate(603 1037)"><use href="#v"/><text y="2.5">DPP4</text></g>
<g id="SMYD2" transform="translate(577 1036)"><use href="#v"/><text y="2.5">SMYD2</text></g>
<g id="CARM1" transform="translate(551 1034)"><use href="#v"/><text y="2.5">CARM1</text></g>
<g id="KDM4C" transform="translate(525 1030)"><use href="#v"/><text y="2.5">KDM4C</text></g>
<g id="INMT" transform="translate(500 1024)"><use href="#v"/><text y="2.5">INMT</text></g>
<g id="YWHAG" transform="translate(474 1016)"><use href="#v"/><text y="2.5">YWHAG</text></g>
<g id="CHEK2" transform="translate(450 1007)"><use href="#v"/><text y="2.5">CHEK2</text></g>
<g id="CTSL" transform="translate(426 997)"><use href="#v"/><text y="2.5">CTSL</text></g>
<g id="RET" transform="translate(403 985)"><use href="#v"/><text y="2.5">RET</text></g>
<g id="PRKCE" transform="translate(380 971)"><use href="#v"/><text y="2.5">PRKCE</text></g>
<g id="GBA" transform="translate(359 956)"><use href="#v"/><text y="2.5">GBA</text></g>
<g id="CDC25B" transform="translate(339 940)"><use href="#v"/><text y="2.5">CDC25B</text></g>
<g id="EHMT1" transform="translate(319 922)"><use href="#v"/><text y="2.5">EHMT1</text></g>
<g id="EEF2K" transform="translate(301 903)"><use href="#v"/><text y="2.5">EEF2K</text></g>
<g id="TNNC1" transform="translate(284 883)"><use href="#v"/><text y="2.5">TNNC1</text></g>
<g id="SETD7" transform="translate(268 862)"><use href="#v"/><text y="2.5">SETD7</text></g>
<g id="CYCS" transform="translate(254 841)"><use href="#v"/><text y="2.5">CYCS</text></g>
<g id="ANPEP" transform="translate(241 818)"><use href="#v"/><text y="2.5">ANPEP</text></g>
<g id="CXCR2" transform="translate(230 794)"><use href="#v"/><text y="2.5">CXCR2</text></g>
<g id="RARS" transform="translate(220 770)"><use href="#v"/><text y="2.5">RARS</text></g>
<g id="SMS" transform="translate(212 745)"><use href="#v"/><text y="2.5">SMS</text></g>
<g id="CES2" transform="translate(205 720)"><use href="#v"/><text y="2.5">CES2</text></g>
<g id="HSD17B14" transform="translate(200 694)"><use href="#v"/><text y="2.5">HSD17B14</text></g>
<g id="HSPA1A" transform="translate(197 668)"><use href="#v"/><text y="2.5">HSPA1A</text></g>
<g id="AGTR1" transform="translate(195 642)"><use href="#v"/><text y="2.5">AGTR1</text></g>
<g id="HTR2B" transform="translate(195 616)"><use href="#v"/><text y="2.5">HTR2B</text></g>
<g id="DAO" transform="translate(197 590)"><use href="#v"/><text y="2.5">DAO</text></g>
<g id="STAT6" transform="translate(200 564)"><use href="#v"/><text y="2.5">STAT6</text></g>
<g id="IARS" transform="translate(205 538)"><use href="#v"/><text y="2.5">IARS</text></g>
<g id="NEK2" transform="translate(212 513)"><use href="#v"/><text y="2.5">NEK2</text></g>
<g id="PRKCA" transform="translate(220 488)"><use href="#v"/><text y="2.5">PRKCA</text></g>
<g id="HDAC5" transform="translate(230 464)"><use href="#v"/><text y="2.5">HDAC5</text></g>
<g id="HTR2C" transform="translate(241 440)"><use href="#v"/><text y="2.5">HTR2C</text></g>
<g id="JUN" transform="translate(254 418)"><use href="#v"/><text y="2.5">JUN</text></g>
<g id="ADK" transform="translate(268 396)"><use href="#v"/><text y="2.5">ADK</text></g>
<g id="PFKFB3" transform="translate(284 375)"><use href="#v"/><text y="2.5">PFKFB3</text></g>
<g id="CYP1A2" transform="translate(301 355)"><use href="#v"/><text y="2.5">CYP1A2</text></g>
<g id="ALPL" transform="translate(319 336)"><use href="#v"/><text y="2.5">ALPL</text></g>
<g id="CYP1A1" transform="translate(339 318)"><use href="#v"/><text y="2.5">CYP1A1</text></g>
<g id="SERPINE1" transform="translate(359 302)"><use href="#v"/><text y="2.5">SERPINE1</text></g>
<g id="PIK3R1" transform="translate(380 287)"><use href="#v"/><text y="2.5">PIK3R1</text></g>
<g id="KLK1" transform="translate(403 273)"><use href="#v"/><text y="2.5">KLK1</text></g>
<g id="NFE2L2" transform="translate(426 261)"><use href="#v"/><text y="2.5">NFE2L2</text></g>
<g id="CSNK2A1" transform="translate(450 251)"><use href="#v"/><text y="2.5">CSNK2A1</text></g>
<g id="PKN1" transform="translate(474 242)"><use href="#v"/><text y="2.5">PKN1</text></g>
<g id="ABCC1" transform="translate(500 234)"><use href="#v"/><text y="2.5">ABCC1</text></g>
<g id="PLK1" transform="translate(525 228)"><use href="#v"/><text y="2.5">PLK1</text></g>
<g id="LCK" transform="translate(551 224)"><use href="#v"/><text y="2.5">LCK</text></g>
<g id="MMP12" transform="translate(577 222)"><use href="#v"/><text y="2.5">MMP12</text></g>
</g>
</svg>
